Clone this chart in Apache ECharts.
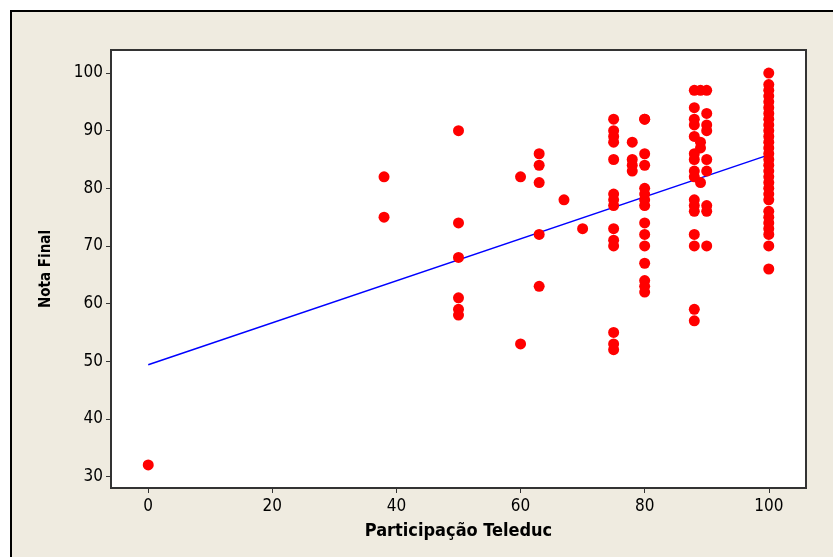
<!DOCTYPE html>
<html><head><meta charset="utf-8">
<script src="https://cdn.jsdelivr.net/npm/echarts@6/dist/echarts.min.js"></script>
<style>html,body{margin:0;padding:0;background:#fff;}#c{width:833px;height:557px;}</style>
</head><body><div id="c"></div>
<script>
// Participação Teleduc (x) vs Nota Final (y)
const xParticipacao = [
  0,
  38, 38,
  50, 50, 50, 50, 50, 50,
  60, 60,
  63, 63, 63, 63, 63,
  67, 70,
  75, 75, 75, 75, 75, 75, 75, 75, 75, 75, 75, 75, 75, 75,
  78, 78, 78, 78,
  80, 80, 80, 80, 80, 80, 80, 80, 80, 80, 80, 80, 80, 80, 80,
  88, 88, 88, 88, 88, 88, 88, 88, 88, 88, 88, 88, 88, 88, 88, 88,
  89, 89, 89, 89,
  90, 90, 90, 90, 90, 90, 90, 90, 90,
  100, 100, 100, 100, 100, 100, 100, 100, 100, 100, 100, 100, 100, 100, 100, 100, 100,
  100, 100, 100, 100, 100, 100, 100, 100, 100, 100, 100, 100
];
const yNotaFinal = [
  32,
  82, 75,
  90, 74, 68, 61, 59, 58,
  82, 53,
  86, 84, 81, 72, 63,
  78, 73,
  92, 90, 89, 88, 85, 79, 78, 77, 73, 71, 70, 55, 53, 52,
  88, 85, 84, 83,
  92, 86, 84, 80, 79, 78, 77, 74, 72, 70, 67, 64, 63, 62, 92,
  97, 94, 92, 91, 89, 86, 85, 83, 82, 78, 77, 76, 72, 70, 59, 57,
  97, 88, 87, 81,
  97, 93, 91, 90, 85, 83, 77, 76, 70,
  100, 98, 97, 96, 95, 94, 93, 92, 91, 90, 89, 88, 87, 86, 85, 84, 83,
  81, 80, 79, 78, 76, 75, 74, 73, 72, 70, 66, 82
];
// fitted regression line endpoints
const fitX = [0, 100];
const fitY = [49.4, 85.8];
const xTicks = [0, 20, 40, 60, 80, 100];
const yTicks = [30, 40, 50, 60, 70, 80, 90, 100];

const points = xParticipacao.map((x, i) => [x, yNotaFinal[i]]);
const fitLine = fitX.map((x, i) => [x, fitY[i]]);

const chart = echarts.init(document.getElementById('c'), null, {renderer: 'canvas'});
const font = 'DejaVu Sans Condensed, DejaVu Sans, sans-serif';
chart.setOption({
  backgroundColor: '#ffffff',
  animation: false,
  graphic: [{
    type: 'rect', z: -10, silent: true,
    shape: {x: 11, y: 11, width: 900, height: 600},
    style: {fill: '#EFEBE0', stroke: '#000000', lineWidth: 2}
  }],
  grid: {
    left: 111, top: 50, right: 27, bottom: 69,
    show: true, backgroundColor: '#ffffff', borderColor: '#333333', borderWidth: 2,
    containLabel: false
  },
  xAxis: {
    type: 'value', min: -6, max: 106,
    name: 'Participação Teleduc', nameLocation: 'middle', nameGap: 34,
    nameTextStyle: {fontFamily: font, fontWeight: 'bold', fontSize: 18, color: '#000'},
    axisLine: {show: true, onZero: false, lineStyle: {color: '#333', width: 2}},
    splitLine: {show: false},
    axisTick: {show: true, length: 5, inside: false, customValues: xTicks, lineStyle: {color: '#333', width: 1}},
    axisLabel: {customValues: xTicks, fontFamily: font, fontSize: 17, color: '#000', margin: 10}
  },
  yAxis: {
    type: 'value', min: 28, max: 104,
    name: 'Nota Final', nameLocation: 'middle', nameGap: 57, nameRotate: 90,
    nameTextStyle: {fontFamily: font, fontWeight: 'bold', fontSize: 15, color: '#000'},
    axisLine: {show: true, onZero: false, lineStyle: {color: '#333', width: 2}},
    splitLine: {show: false},
    axisTick: {show: true, length: 5, inside: false, customValues: yTicks, lineStyle: {color: '#333', width: 1}},
    axisLabel: {customValues: yTicks, fontFamily: font, fontSize: 17, color: '#000', margin: 8}
  },
  series: [
    {
      type: 'line', data: fitLine, symbol: 'none', z: 1,
      lineStyle: {color: '#0000FF', width: 1.5}, silent: true
    },
    {
      type: 'scatter', data: points, symbol: 'circle', symbolSize: 11, z: 2,
      itemStyle: {color: '#FF0000', opacity: 1}
    }
  ]
});
</script>
</body></html>
